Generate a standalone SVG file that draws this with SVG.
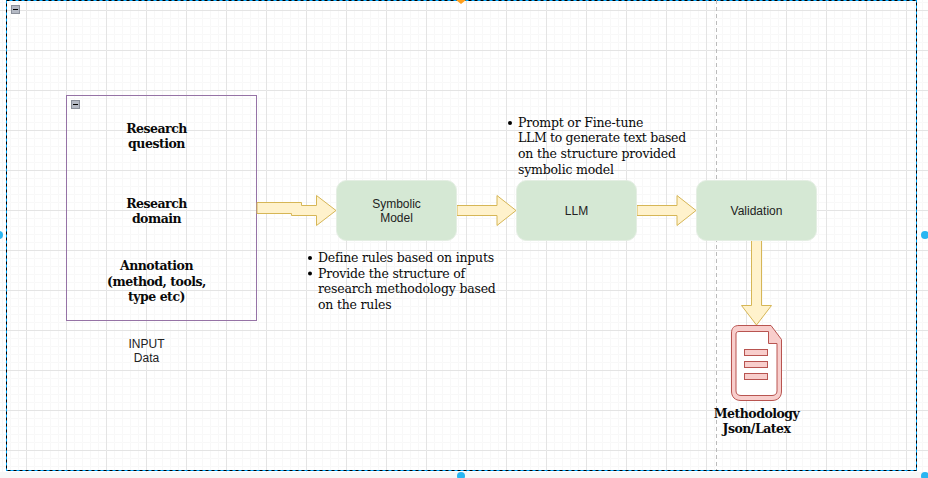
<svg xmlns="http://www.w3.org/2000/svg" width="928" height="478" viewBox="0 0 928 478">
<defs>
<pattern id="minor" width="8" height="8" patternUnits="userSpaceOnUse" x="2" y="2"><path d="M8 .5H.5V8" fill="none" stroke="#f8f8f8" stroke-width="1"/></pattern>
<pattern id="major" width="40" height="40" patternUnits="userSpaceOnUse" x="26" y="10"><path d="M40 .5H.5V40" fill="none" stroke="#e4e4e4" stroke-width="1"/></pattern>
</defs>
<style>
.s{font-family:"DejaVu Serif","Liberation Serif",serif;font-size:12.500px;letter-spacing:-.2px;fill:#0a0a0a}
.b{font-weight:bold;text-anchor:middle;letter-spacing:-.5px}
.a{font-family:"Liberation Sans",Arial,sans-serif;font-size:12px;fill:#222;text-anchor:middle}
.n{fill:#d5e8d4;stroke:#e4eee3;stroke-width:1}
.f{fill:#fff2cc;stroke:#d6b656;stroke-width:1}
.d{fill:#f8cecc;stroke:#b85450;stroke-width:1}
.c{fill:#b4b9c4;stroke:#8a8f9a}
</style>
<rect width="928" height="478" fill="#fff"/>
<rect width="928" height="472" fill="url(#minor)"/>
<rect width="928" height="472" fill="url(#major)"/>
<rect x="0" y="472" width="928" height="6" fill="#f7f7f7"/>
<g id="container">
<rect x="6.500" y="0.500" width="910" height="470" fill="none" stroke="#00a8ff" stroke-width="1"/>
<rect x="6.500" y="0.500" width="910" height="470" fill="none" stroke="#000" stroke-width="1" stroke-dasharray="3 3"/>
<rect x="11.500" y="5.500" width="8" height="8" class="c"/><path d="M13 9.500H18" stroke="#000"/>
<path d="M716.500 0V470" stroke="#bbb" stroke-dasharray="4 3" fill="none"/>
<path d="M456 0h10l-5 4z" fill="#ff9f1c"/>
<circle cx="-1" cy="235" r="4" fill="#29b6f2"/><circle cx="925" cy="235" r="4" fill="#29b6f2"/><circle cx="461" cy="476" r="4" fill="#29b6f2"/><circle cx="925" cy="476" r="4" fill="#29b6f2"/>
</g>
<g id="input">
<rect x="66.500" y="95.500" width="190" height="225" fill="#fff" fill-opacity="0" stroke="#9673a6"/>
<rect x="71.500" y="100.500" width="8" height="8" class="c"/><path d="M73 104.500H78" stroke="#000"/>
<text class="s b" x="156.500" y="133">Research</text><text class="s b" x="156.500" y="148">question</text>
<text class="s b" x="156.500" y="208">Research</text><text class="s b" x="156.500" y="223">domain</text>
<text class="s b" x="156.500" y="270">Annotation</text><text class="s b" x="156.500" y="286">(method, tools,</text><text class="s b" x="156.500" y="301">type etc)</text>
</g>
<text id="input-label" class="a" x="146.500" y="348">INPUT<tspan x="146.500" dy="14">Data</tspan></text>
<g id="connectors">
<path class="f" d="M257 202.500H301.500V205.500H316.500V195.500L336 210.500L316.500 225.500V215.500H291.500V213.500H257Z"/>
<path class="f" d="M457 205.500H497V195.500L516 210.500L497 225.500V215.500H457Z"/>
<path class="f" d="M637 205.500H677V195.500L696 210.500L677 225.500V215.500H637Z"/>
<path class="f" d="M751.500 240.500H761.500V305.500H771.500L756.500 325L741.500 305.500H751.500Z"/>
</g>
<g id="symbolic"><rect class="n" x="336.500" y="180.500" width="120" height="60" rx="10"/><text class="a" x="396.500" y="208">Symbolic<tspan x="396.500" dy="14">Model</tspan></text></g>
<g id="llm"><rect class="n" x="516.500" y="180.500" width="120" height="60" rx="10"/><text class="a" x="576.500" y="215">LLM</text></g>
<g id="validation"><rect class="n" x="696.500" y="180.500" width="120" height="60" rx="10"/><text class="a" x="756.500" y="215">Validation</text></g>
<g id="notes1">
<circle cx="310" cy="258" r="2" fill="#000"/><circle cx="310" cy="273.500" r="2" fill="#000"/>
<text class="s" x="318" y="262">Define rules based on inputs</text>
<text class="s" x="318" y="278">Provide the structure of</text>
<text class="s" x="318" y="293">research methodology based</text>
<text class="s" x="318" y="309">on the rules</text>
</g>
<g id="notes2">
<circle cx="510" cy="123" r="2" fill="#000"/>
<text class="s" x="518" y="127">Prompt or Fine-tune</text>
<text class="s" x="518" y="142" textLength="168">LLM to generate text based</text>
<text class="s" x="518" y="158">on the structure provided</text>
<text class="s" x="518" y="174">symbolic model</text>
</g>
<g id="document">
<path class="d" d="M739 325.500H771L781.500 339.500V391C781.500 397 778 400.500 772 400.500H741C735 400.500 731.500 397 731.500 391V333C731.500 328 734 325.500 739 325.500Z"/>
<path d="M739 331.500H768.500V343.500H777V391C777 394 775 395.500 772 395.500H741C738 395.500 736 394 736 391V334C736 332.500 737 331.500 739 331.500Z" fill="#fff" stroke="#b85450"/>
<rect class="d" x="744.500" y="349.500" width="23" height="6"/><rect class="d" x="744.500" y="361.500" width="23" height="6"/><rect class="d" x="744.500" y="373.500" width="23" height="6"/>
<text class="s b" x="756.500" y="418">Methodology</text><text class="s b" x="756.500" y="433">Json/Latex</text>
</g>
</svg>
